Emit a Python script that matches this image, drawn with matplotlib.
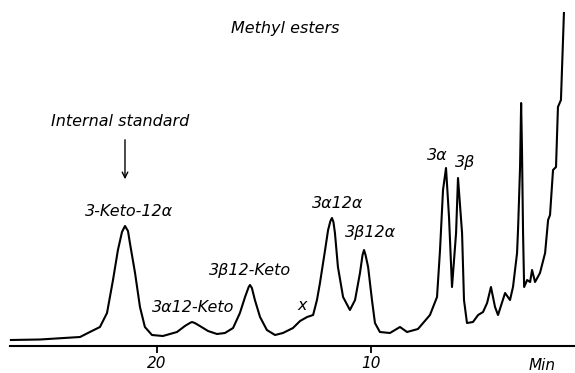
import matplotlib.pyplot as plt
import numpy as np

# chromatogram trace (retention time in min, detector response in arbitrary units)
time_min = [26.81, 25.45, 23.58, 23.12, 22.65, 22.32, 22.04, 21.81, 21.62, 21.48,
            21.34, 21.25, 21.01, 20.78, 20.55, 20.22, 19.71, 19.05, 18.68, 18.45,
            18.35, 18.22, 17.98, 17.60, 17.18, 16.81, 16.43, 16.11, 15.87, 15.70,
            15.64, 15.55, 15.41, 15.17, 14.85, 14.47, 14.10, 13.63, 13.30, 12.97,
            12.69, 12.51, 12.37, 12.13, 11.99, 11.88, 11.81, 11.74, 11.67, 11.53,
            11.29, 10.97, 10.73, 10.50, 10.38, 10.31, 10.24, 10.12, 9.94, 9.80,
            9.57, 9.10, 8.63, 8.30, 7.79, 7.23, 6.90, 6.76, 6.62, 6.48,
            6.34, 6.20, 6.01, 5.92, 5.73, 5.64, 5.50, 5.22, 4.98, 4.75,
            4.56, 4.38, 4.19, 4.05, 3.72, 3.49, 3.35, 3.16, 3.11, 3.02,
            2.97, 2.93, 2.88, 2.83, 2.69, 2.55, 2.46, 2.32, 2.09, 1.85,
            1.71, 1.62, 1.48, 1.34, 1.25, 1.11, 0.97]
response = [6, 6.5, 9, 14, 19, 33, 66, 96, 114, 120,
            115, 103, 73, 39, 19, 11, 10, 14, 20, 23,
            24, 23, 20, 15, 12, 13, 18, 33, 49, 59,
            61, 58, 46, 29, 16, 11, 13, 18, 25, 29,
            31, 46, 63, 96, 116, 125, 128, 124, 113, 79,
            49, 36, 46, 73, 91, 96, 91, 79, 46, 23,
            14, 13, 19, 14, 17, 31, 49, 96, 156, 178,
            129, 59, 113, 168, 113, 46, 23, 24, 31, 34,
            43, 59, 39, 31, 53, 46, 59, 93, 119, 179,
            243, 196, 113, 59, 66, 64, 76, 64, 73, 93,
            126, 131, 176, 179, 239, 246, 333]

# peak labels: text, time, height
peak_labels = ['3-Keto-12α', '3α12-Keto', '3β12-Keto', 'x', '3α12α', '3β12α', '3α', '3β']
label_time = [21.29, 18.29, 15.64, 13.21, 11.53, 10.03, 6.90, 5.59]
label_height = [134, 39, 76, 41, 143, 113, 191, 183]

tick_times = [20, 10]

fig = plt.figure(figsize=(5.75, 3.73), dpi=100)
ax = fig.add_axes([0, 27 / 373, 1, 346 / 373])

ax.plot(time_min, response, color='black', lw=1.5, solid_joinstyle='round')

ax.set_xlim(27.32, 0.453)
ax.set_ylim(0, 346)

for s in ['top', 'left', 'right']:
    ax.spines[s].set_visible(False)
ax.spines['bottom'].set_bounds(26.85, 0.45)
ax.spines['bottom'].set_linewidth(1.5)
ax.set_yticks([])
ax.set_xticks(tick_times)
ax.set_xticklabels([str(t) for t in tick_times], fontsize=11, style='italic')
ax.tick_params(axis='x', length=5, width=1.3, pad=2)

for txt, t, h in zip(peak_labels, label_time, label_height):
    ax.text(t, h, txt, ha='center', va='center', fontsize=11.5, style='italic')

ax.text(14.0, 318, 'Methyl esters', ha='center', va='center', fontsize=11.5, style='italic')
ax.text(21.71, 224, 'Internal standard', ha='center', va='center', fontsize=11.5, style='italic')
ax.annotate('', xy=(21.48, 164), xytext=(21.48, 209),
            arrowprops=dict(arrowstyle='->', color='black', lw=1.0))
ax.text(2.0, -20, 'Min', ha='center', va='center', fontsize=11, style='italic', clip_on=False)

fig.savefig('out.png', dpi=100)
